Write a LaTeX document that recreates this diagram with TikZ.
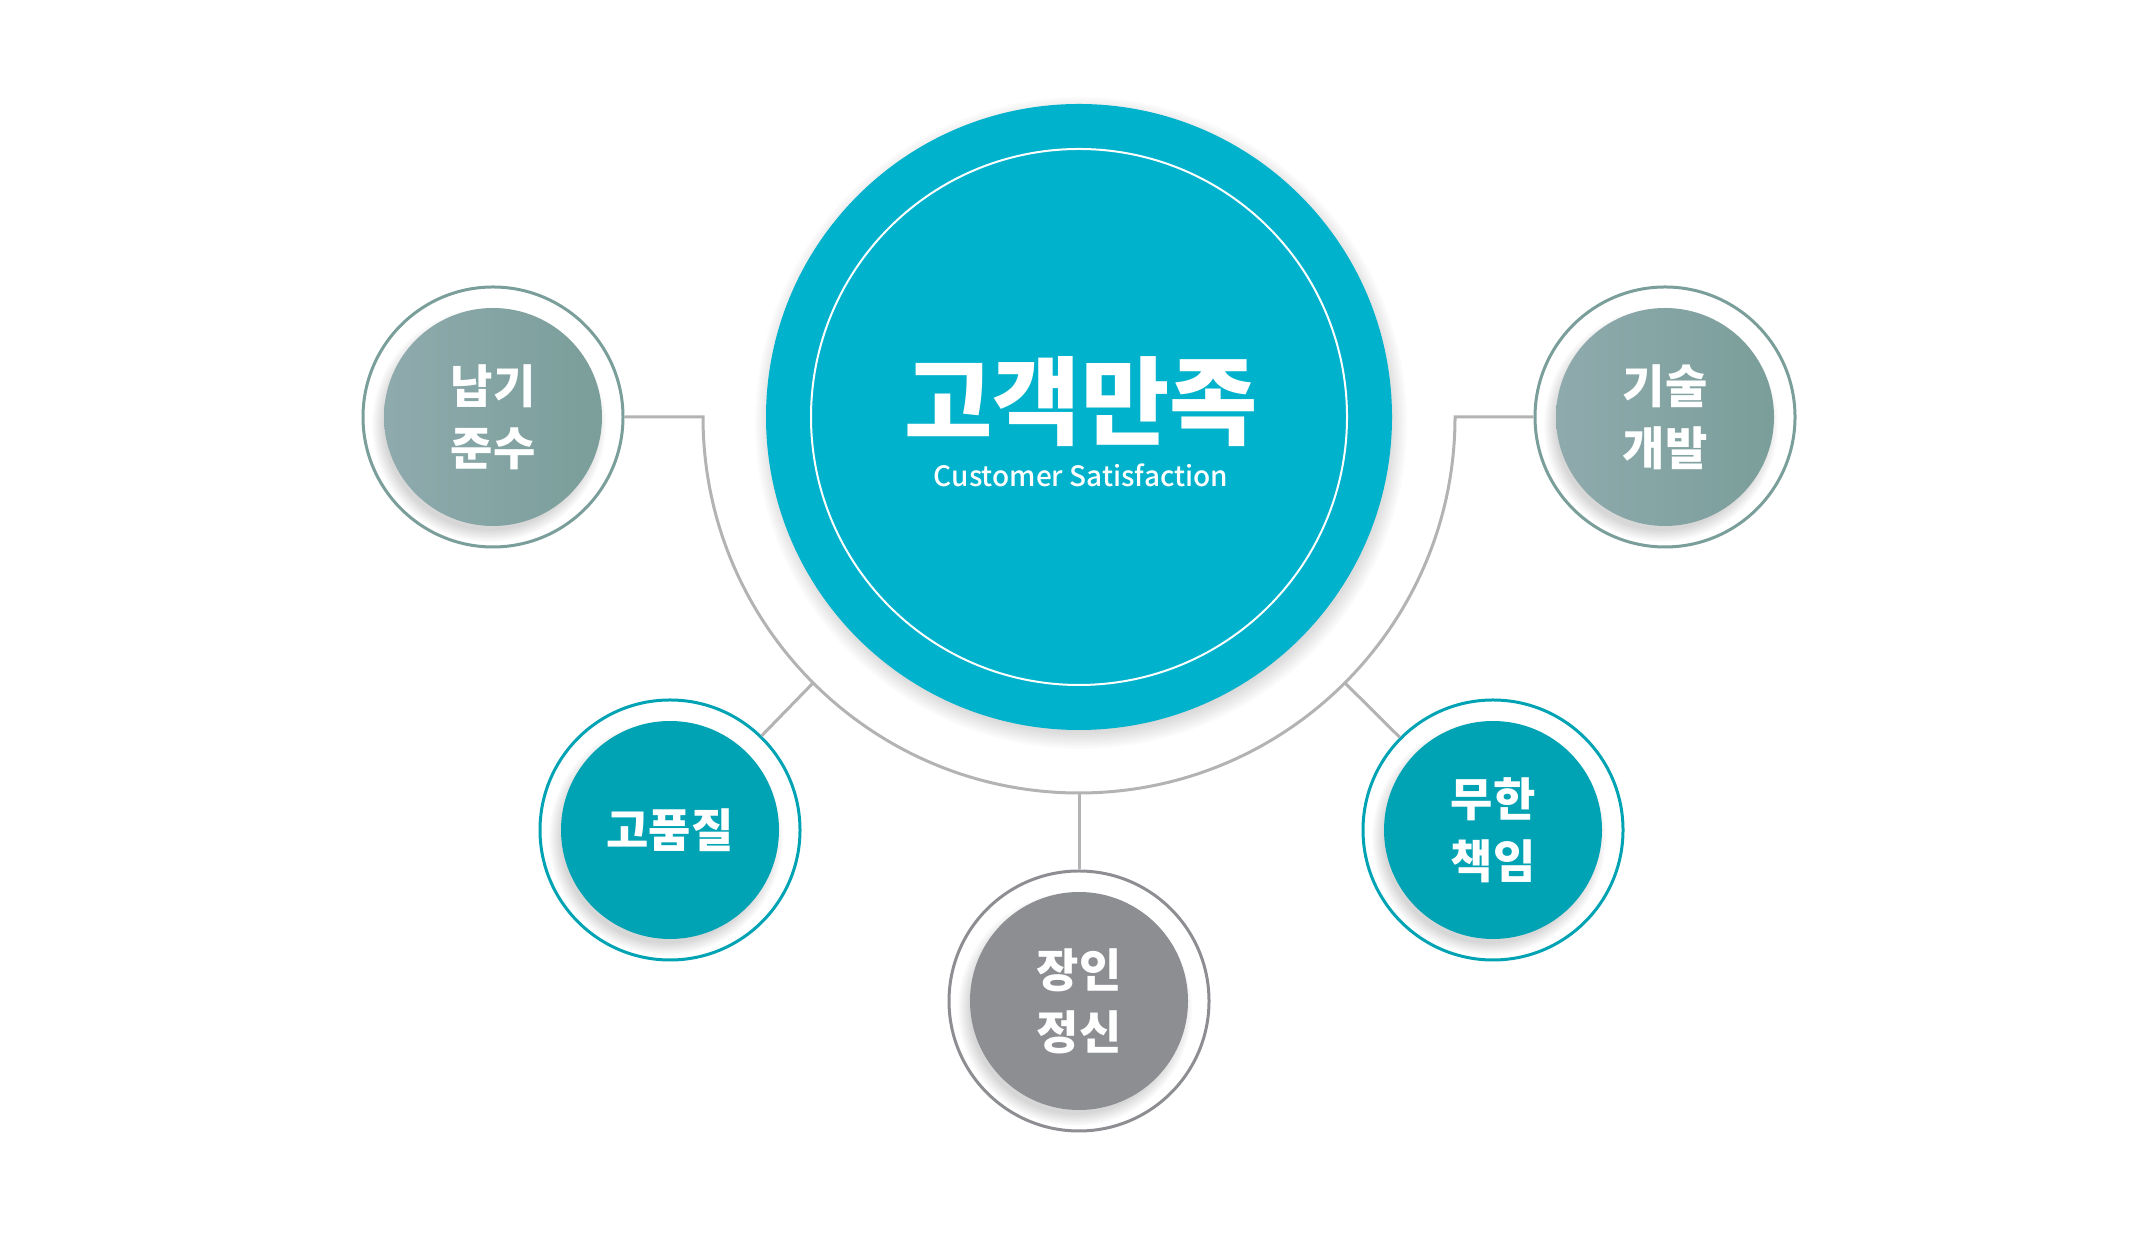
\documentclass[tikz,border=0pt]{standalone}
\usepackage{fontspec}
\setmainfont{Noto Sans CJK KR}
\newfontfamily\enfont{Noto Sans CJK KR}[UprightFont={* Medium}]
\usepackage{tikz}

\definecolor{mainteal}{HTML}{00B2CB}
\definecolor{deepteal}{HTML}{00A3B4}
\definecolor{sage}{HTML}{7A9E9A}
\definecolor{sagelight}{HTML}{8FAAAD}
\definecolor{stone}{HTML}{8D8E92}
\definecolor{linkgray}{HTML}{B3B3B3}

\tikzset{
    ring/.style={circle, draw=#1, line width=1.5pt, fill=white, minimum size=130pt, inner sep=0pt},
    disc/.style={circle, minimum size=109pt, inner sep=0pt, text=white, align=center,
        font=\bfseries\fontsize{23}{31}\selectfont},
    teal disc/.style={disc, fill=deepteal},
    stone disc/.style={disc, fill=stone},
    sage disc/.style={disc, left color=sagelight, middle color=sage, right color=sage},
    link/.style={draw=linkgray, line width=1.5pt},
}

\begin{document}
\begin{tikzpicture}[x=0.5pt, y=0.5pt]
    \useasboundingbox (0,0) rectangle (2150,1235);
    % centre circle
    \coordinate (c) at (1079,818);
    \foreach \i in {1,...,10}
        \fill[black, opacity=0.014] ([shift={(2,-6)}]c) circle [radius=306+\i*2];
    \node[circle, fill=mainteal, minimum size=313pt, inner sep=0pt] (main) at (c) {};
    \draw[white, line width=1pt] (main.center) circle [radius=268];
    \node[anchor=base, text=white, font=\bfseries\fontsize{48}{52}\selectfont] (title) at (1081,797) {고객만족};
    \node[anchor=base, text=white, font=\enfont\fontsize{14}{16}\selectfont] (subtitle) at (1081,748) {Customer Satisfaction};
    % small circles
    \foreach \nm/\x/\y/\rc/\ds/\txt in {
        napgi/493/818/sage/sage disc/{납기\\준수},
        gisul/1665/818/sage/sage disc/{기술\\개발},
        quality/670/405/deepteal/teal disc/{고품질},
        duty/1493/405/deepteal/teal disc/{무한\\책임},
        craft/1079/234/stone/stone disc/{장인\\정신}} {
        \node[ring=\rc] (\nm) at (\x,\y) {};
        \foreach \i in {1,...,8}
            \fill[black, opacity=0.02] (\x-4,\y-8) circle [radius=104+\i*1.6];
        \node[\ds] (\nm-disc) at (\x,\y) {\txt};
    }
    % connectors
    \path (main.center) ++(180:376) coordinate (arcL);
    \path (main.center) ++(225:376) coordinate (spokeQ);
    \path (main.center) ++(270:376) coordinate (spokeC);
    \path (main.center) ++(315:376) coordinate (spokeD);
    \draw[link] (napgi.east) -- (arcL) arc [start angle=180, end angle=360, radius=376] -- (gisul.west);
    \draw[link] (spokeQ) -- (quality);
    \draw[link] (spokeC) -- (craft);
    \draw[link] (spokeD) -- (duty);
\end{tikzpicture}
\end{document}
